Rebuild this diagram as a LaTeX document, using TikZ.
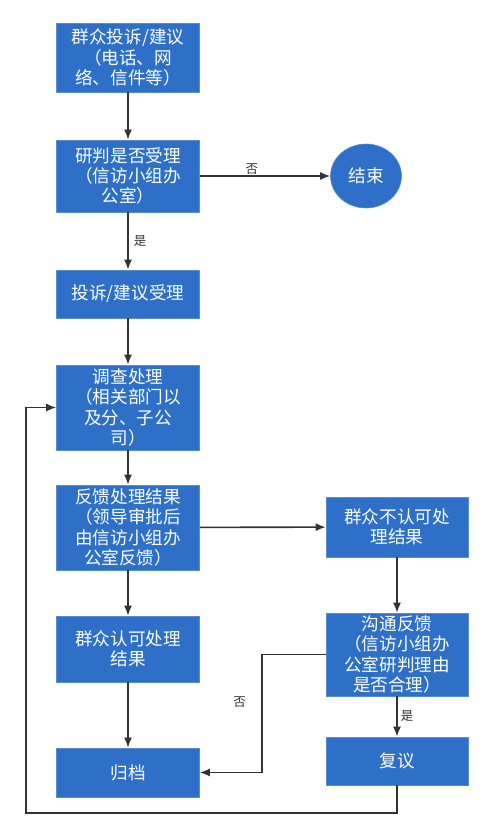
\documentclass[tikz,border=0pt]{standalone}
\usepackage{fontspec}
\setmainfont{Noto Sans CJK SC}
\usetikzlibrary{shapes.geometric,arrows.meta}
\definecolor{boxblue}{RGB}{46,112,200}
\definecolor{linegray}{RGB}{51,51,51}
\tikzset{
  box/.style={draw=boxblue!80!white,line width=0.6pt,fill=boxblue,text=white,
    minimum width=143pt,inner sep=2pt,align=center,font=\fontsize{17.6}{20.3}\selectfont},
  lbl/.style={text=linegray,inner sep=1pt,font=\fontsize{12.5}{14}\selectfont}
}
\begin{document}
\begin{tikzpicture}[x=1pt,y=-1pt,->,>={Latex[length=10pt,width=8pt]},line width=1.6pt,color=linegray]
\useasboundingbox (0,0) rectangle (495,836);
% left column
\node[box,minimum height=69pt] (tousu) at (128,57.5) {群众投诉/建议\\（电话、网\\络、信件等）};
\node[box,minimum height=72pt] (yanpan) at (128,176) {研判是否受理\\（信访小组办\\公室）};
\node[box,minimum height=48pt] (shouli) at (128,294) {投诉/建议受理};
\node[box,minimum height=85pt] (diaocha) at (128,407.5) {调查处理\\（相关部门以\\及分、子公\\司）};
\node[box,minimum height=85pt] (fankui) at (128,527.5) {反馈处理结果\\（领导审批后\\由信访小组办\\公室反馈）};
\node[box,minimum height=66pt] (renke) at (128,649) {群众认可处理\\结果};
\node[box,minimum height=49pt] (guidang) at (128,772.5) {归档};
% right column
\node[box,ellipse,minimum width=71pt,minimum height=64pt] (jieshu) at (366,176) {结束};
\node[box,minimum width=142pt,minimum height=60pt] (burenke) at (397,527) {群众不认可处\\理结果};
\node[box,minimum width=142pt,minimum height=83pt] (goutong) at (397,654.5) {沟通反馈\\（信访小组办\\公室研判理由\\是否合理）};
\node[box,minimum width=142pt,minimum height=48pt] (fuyi) at (397,761) {复议};
\coordinate (back) at (26,813);
% connectors
\draw (tousu) -- (yanpan);
\draw (yanpan) -- node[lbl,above,pos=0.4]{否} (jieshu);
\draw (yanpan) -- node[lbl,right=4pt]{是} (shouli);
\draw (shouli) -- (diaocha);
\draw (diaocha) -- (fankui);
\draw (fankui) -- (burenke);
\draw (fankui) -- (renke);
\draw (renke) -- (guidang);
\draw (burenke) -- (goutong);
\draw (goutong) -- node[lbl,right=2pt]{是} (fuyi);
\draw (goutong.west) -- ++(-64,0) |- node[lbl,pos=0.2,left=14pt]{否} (guidang.east);
\draw (fuyi.south) |- (back) |- (diaocha.west);
\end{tikzpicture}
\end{document}
